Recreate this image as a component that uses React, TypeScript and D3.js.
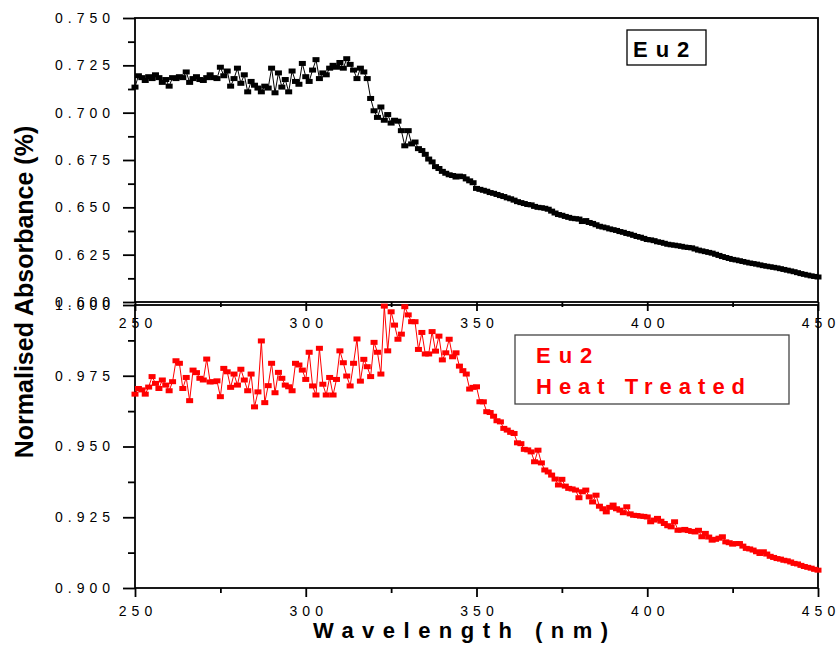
import React, { useRef, useEffect } from "react";
import * as d3 from "d3";

// one reading per nm, starting at 250 nm
const firstWavelength = 250;

// Eu2 (upper panel)
const eu2 = [
  0.7135, 0.7195, 0.7185, 0.7170, 0.7190, 0.7180, 0.7200, 0.7185, 0.7160, 0.7175,
  0.7140, 0.7185, 0.7180, 0.7190, 0.7185, 0.7215, 0.7160, 0.7180, 0.7190, 0.7175,
  0.7170, 0.7185, 0.7200, 0.7185, 0.7180, 0.7240, 0.7195, 0.7220, 0.7140, 0.7180,
  0.7235, 0.7155, 0.7200, 0.7110, 0.7165, 0.7145, 0.7130, 0.7110, 0.7140, 0.7130,
  0.7235, 0.7105, 0.7210, 0.7135, 0.7175, 0.7110, 0.7220, 0.7165, 0.7150, 0.7260,
  0.7190, 0.7165, 0.7225, 0.7280, 0.7180, 0.7210, 0.7200, 0.7235, 0.7250, 0.7240,
  0.7265, 0.7235, 0.7285, 0.7255, 0.7225, 0.7180, 0.7235, 0.7215, 0.7180, 0.7075,
  0.7010, 0.6975, 0.7030, 0.6960, 0.6990, 0.6945, 0.6960, 0.6955, 0.6905, 0.6825,
  0.6905, 0.6835, 0.6845, 0.6810, 0.6800, 0.6780, 0.6755, 0.6740, 0.6715, 0.6705,
  0.6690, 0.6680, 0.6672, 0.6668, 0.6660, 0.6665, 0.6662, 0.6650, 0.6640, 0.6630,
  0.6600, 0.6595, 0.6590, 0.6585, 0.6578, 0.6574, 0.6568, 0.6562, 0.6557, 0.6550,
  0.6545, 0.6538, 0.6530, 0.6525, 0.6520, 0.6515, 0.6513, 0.6505, 0.6500, 0.6498,
  0.6495, 0.6490, 0.6480, 0.6470, 0.6462, 0.6458, 0.6452, 0.6447, 0.6442, 0.6440,
  0.6438, 0.6425, 0.6430, 0.6420, 0.6415, 0.6408, 0.6400, 0.6396, 0.6392, 0.6386,
  0.6382, 0.6378, 0.6372, 0.6368, 0.6362, 0.6358, 0.6352, 0.6346, 0.6342, 0.6336,
  0.6330, 0.6328, 0.6324, 0.6318, 0.6315, 0.6310, 0.6305, 0.6302, 0.6300, 0.6297,
  0.6294, 0.6290, 0.6288, 0.6286, 0.6280, 0.6274, 0.6270, 0.6266, 0.6262, 0.6258,
  0.6252, 0.6246, 0.6240, 0.6235, 0.6230, 0.6225, 0.6222, 0.6218, 0.6214, 0.6210,
  0.6206, 0.6203, 0.6200, 0.6196, 0.6192, 0.6189, 0.6186, 0.6183, 0.6180, 0.6176,
  0.6172, 0.6168, 0.6164, 0.6160, 0.6155, 0.6150, 0.6146, 0.6142, 0.6138, 0.6135,
  0.6132,
];

// Eu2 heat treated (lower panel)
const eu2HeatTreated = [
  0.9685, 0.9705, 0.9700, 0.9685, 0.9710, 0.9747, 0.9723, 0.9705, 0.9735, 0.9717,
  0.9697, 0.9729, 0.9803, 0.9794, 0.9705, 0.9744, 0.9662, 0.9770, 0.9761, 0.9741,
  0.9735, 0.9809, 0.9728, 0.9729, 0.9732, 0.9676, 0.9776, 0.9764, 0.9709, 0.9756,
  0.9717, 0.9773, 0.9735, 0.9697, 0.9756, 0.9640, 0.9693, 0.9873, 0.9655, 0.9715,
  0.9794, 0.9690, 0.9762, 0.9741, 0.9717, 0.9711, 0.9697, 0.9794, 0.9788, 0.9770,
  0.9737, 0.9833, 0.9714, 0.9682, 0.9847, 0.9720, 0.9682, 0.9744, 0.9682, 0.9737,
  0.9838, 0.9796, 0.9749, 0.9714, 0.9794, 0.9880, 0.9731, 0.9808, 0.9782, 0.9747,
  0.9868, 0.9833, 0.9756, 0.9996, 0.9838, 0.9976, 0.9929, 0.9879, 0.9897, 0.9994,
  0.9965, 0.9941, 0.9941, 0.9843, 0.9903, 0.9827, 0.9827, 0.9906, 0.9837, 0.9890,
  0.9806, 0.9831, 0.9879, 0.9817, 0.9831, 0.9784, 0.9768, 0.9756, 0.9703, 0.9709,
  0.9711, 0.9658, 0.9658, 0.9623, 0.9620, 0.9607, 0.9591, 0.9587, 0.9564, 0.9558,
  0.9550, 0.9546, 0.9513, 0.9510, 0.9490, 0.9488, 0.9481, 0.9446, 0.9487, 0.9442,
  0.9417, 0.9410, 0.9399, 0.9385, 0.9364, 0.9384, 0.9360, 0.9352, 0.9350, 0.9346,
  0.9319, 0.9340, 0.9346, 0.9322, 0.9304, 0.9328, 0.9289, 0.9280, 0.9269, 0.9285,
  0.9293, 0.9280, 0.9275, 0.9266, 0.9287, 0.9262, 0.9257, 0.9256, 0.9254, 0.9253,
  0.9251, 0.9234, 0.9240, 0.9246, 0.9236, 0.9228, 0.9220, 0.9216, 0.9234, 0.9204,
  0.9205, 0.9207, 0.9203, 0.9200, 0.9198, 0.9204, 0.9181, 0.9193, 0.9180, 0.9169,
  0.9172, 0.9176, 0.9181, 0.9163, 0.9160, 0.9155, 0.9157, 0.9157, 0.9148, 0.9140,
  0.9138, 0.9134, 0.9128, 0.9122, 0.9128, 0.9120, 0.9112, 0.9108, 0.9104, 0.9102,
  0.9098, 0.9096, 0.9092, 0.9087, 0.9085, 0.9080, 0.9076, 0.9073, 0.9070, 0.9066,
  0.9063,
];

const xMajorTicks = [250, 300, 350, 400, 450];
const xMinorTicks = [275, 325, 375, 425];
const topYMajor = [0.6, 0.625, 0.65, 0.675, 0.7, 0.725, 0.75];
const topYMinor = [0.6125, 0.6375, 0.6625, 0.6875, 0.7125, 0.7375];
const bottomYMajor = [0.9, 0.925, 0.95, 0.975, 1.0];
const bottomYMinor = [0.9125, 0.9375, 0.9625, 0.9875];

const FONT = "Arial, 'Liberation Sans', sans-serif";

function drawPanel(svg, opts) {
  var values = opts.values, color = opts.color, top = opts.top, bottom = opts.bottom;
  var left = 135, right = 818;
  var x = d3.scaleLinear().domain([250, 450]).range([left, right]);
  var y = d3.scaleLinear().domain(opts.yDomain).range([bottom, top]);
  var g = svg.append("g");

  // frame
  g.append("rect")
    .attr("x", left).attr("y", top)
    .attr("width", right - left).attr("height", bottom - top)
    .attr("fill", "none").attr("stroke", "#000").attr("stroke-width", 1.8);

  // left axis: major + minor ticks, outward
  var yAxis = g.append("g").attr("transform", "translate(" + left + ",0)")
    .call(d3.axisLeft(y).tickValues(opts.yMajor).tickSize(12).tickSizeOuter(0)
      .tickPadding(8).tickFormat(d3.format(".3f")));
  g.append("g").attr("transform", "translate(" + left + ",0)")
    .call(d3.axisLeft(y).tickValues(opts.yMinor).tickSize(7).tickSizeOuter(0).tickFormat(function () { return ""; }));

  // bottom axis
  var xAxis = g.append("g").attr("transform", "translate(0," + bottom + ")")
    .call(d3.axisBottom(x).tickValues(xMajorTicks).tickSize(9).tickSizeOuter(0).tickPadding(opts.xPad));
  g.append("g").attr("transform", "translate(0," + bottom + ")")
    .call(d3.axisBottom(x).tickValues(xMinorTicks).tickSize(5).tickSizeOuter(0).tickFormat(function () { return ""; }));

  g.selectAll(".domain").remove();
  g.selectAll(".tick line").attr("stroke", "#000").attr("stroke-width", 1.8);
  yAxis.selectAll("text").attr("font-size", 14).attr("font-family", FONT).attr("fill", "#000")
    .style("letter-spacing", "5px");
  xAxis.selectAll("text").attr("font-size", 14).attr("font-family", FONT).attr("fill", "#000")
    .attr("dx", 2.5).style("letter-spacing", "5px");

  var pts = values.map(function (v, i) { return { w: firstWavelength + i, v: v }; });
  var line = d3.line().x(function (d) { return x(d.w); }).y(function (d) { return y(d.v); });
  g.append("path").datum(pts)
    .attr("d", line).attr("fill", "none").attr("stroke", color).attr("stroke-width", 1);
  g.selectAll(".pt").data(pts).enter().append("rect")
    .attr("x", function (d) { return x(d.w) - 3.5; })
    .attr("y", function (d) { return y(d.v) - 2.5; })
    .attr("width", 7).attr("height", 5)
    .attr("fill", color);
}

export default function App() {
  var svgRef = useRef(null);
  useEffect(function () {
    var svg = d3.select(svgRef.current);
    svg.selectAll("*").remove();

    drawPanel(svg, {
      values: eu2, color: "#000", top: 18, bottom: 302,
      yDomain: [0.6, 0.75], yMajor: topYMajor, yMinor: topYMinor, xPad: 7,
    });
    drawPanel(svg, {
      values: eu2HeatTreated, color: "#ff0000", top: 305, bottom: 588,
      yDomain: [0.9, 1.0], yMajor: bottomYMajor, yMinor: bottomYMinor, xPad: 9,
    });

    // legend, upper panel
    svg.append("rect").attr("x", 627).attr("y", 30).attr("width", 79).attr("height", 35)
      .attr("fill", "#fff").attr("stroke", "#000").attr("stroke-width", 1.3);
    svg.append("text").attr("x", 633).attr("y", 57).attr("font-family", FONT)
      .attr("font-size", 22).attr("font-weight", "bold")
      .style("letter-spacing", "8px").text("Eu2");

    // legend, lower panel
    svg.append("rect").attr("x", 515).attr("y", 335).attr("width", 274).attr("height", 69)
      .attr("fill", "#fff").attr("stroke", "#444").attr("stroke-width", 1.3);
    svg.append("text").attr("x", 536).attr("y", 363).attr("font-family", FONT)
      .attr("font-size", 22).attr("font-weight", "bold").attr("fill", "#ff0000")
      .style("letter-spacing", "8px").text("Eu2");
    svg.append("text").attr("x", 536).attr("y", 394).attr("font-family", FONT)
      .attr("font-size", 22).attr("font-weight", "bold").attr("fill", "#ff0000")
      .style("letter-spacing", "7px").text("Heat Treated");

    // axis titles
    svg.append("text").attr("x", 313).attr("y", 638).attr("font-family", FONT)
      .attr("font-size", 22).attr("font-weight", "bold")
      .attr("textLength", 295).attr("lengthAdjust", "spacing").text("Wavelength (nm)");
    svg.append("text").attr("transform", "translate(33,292) rotate(-90)")
      .attr("text-anchor", "middle").attr("font-family", FONT)
      .attr("font-size", 25).attr("font-weight", "bold").text("Normalised Absorbance (%)");
  }, []);

  return (
    <svg ref={svgRef} width={838} height={645}
      style={{ position: "absolute", left: 0, top: 0, background: "#fff" }} />
  );
}
